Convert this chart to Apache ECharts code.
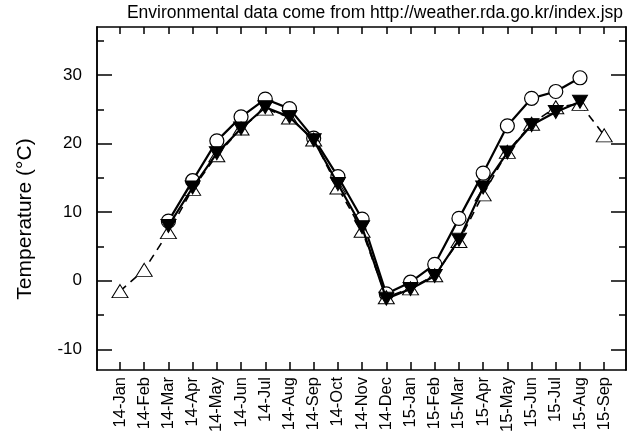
<!DOCTYPE html>
<html>
<head>
<meta charset="utf-8">
<script src="https://cdn.jsdelivr.net/npm/echarts@6/dist/echarts.min.js"></script>
<style>html,body{margin:0;padding:0;background:#fff}#c{width:631px;height:435px}</style>
</head>
<body>
<div id="c"></div>
<script>
var categories = ['14-Jan','14-Feb','14-Mar','14-Apr','14-May','14-Jun','14-Jul','14-Aug','14-Sep','14-Oct','14-Nov','14-Dec',
                  '15-Jan','15-Feb','15-Mar','15-Apr','15-May','15-Jun','15-Jul','15-Aug','15-Sep'];
// open circles, 14-Mar .. 15-Aug
var circleStart = 2;
var circleValues = [8.7, 14.6, 20.4, 23.9, 26.5, 25.1, 20.8, 15.2, 9.0, -1.9, -0.2, 2.4, 9.1, 15.7, 22.6, 26.6, 27.6, 29.6];
// filled inverted triangles, 14-Mar .. 15-Aug
var invTriStart = 2;
var invTriValues = [8.0, 13.6, 18.6, 22.2, 25.3, 23.9, 20.5, 14.1, 7.8, -2.6, -1.2, 0.7, 6.0, 13.6, 18.7, 22.7, 24.6, 26.1];
// open triangles (dashed), 14-Jan .. 15-Sep
var triStart = 0;
var triValues = [-1.5, 1.6, 7.1, 13.4, 18.3, 22.2, 25.1, 23.8, 20.6, 13.6, 7.3, -2.4, -1.1, 0.8, 5.8, 12.6, 18.8, 22.9, 25.3, 25.8, 21.2];
var yMajor = [-10, 0, 10, 20, 30];
var yMinor = [-5, 5, 15, 25, 35];
var titleText = 'Environmental data come from http://weather.rda.go.kr/index.jsp';
var yName = 'Temperature (\u00B0C)';

function pairs(start, vals) { return vals.map(function (v, i) { return [start + i, v]; }); }
var idx = categories.map(function (c, i) { return i; });
var FONT = "'Liberation Sans', Arial, sans-serif";
var XMIN = -0.95, XMAX = 20.9, YMIN = -13, YMAX = 37;
var lineS = { color: '#000', width: 1.5 };

function xAx(pos, showLabel, tickLen) {
  return {
    type: 'value', position: pos, min: XMIN, max: XMAX,
    axisLine: { show: true, onZero: false, lineStyle: lineS },
    axisTick: { show: true, inside: true, length: tickLen, customValues: idx, lineStyle: lineS },
    axisLabel: showLabel ? {
      show: true, customValues: idx, rotate: 90, margin: 7, color: '#000', fontSize: 16.5, fontFamily: FONT,
      formatter: function (v) { return categories[Math.round(v)]; }
    } : { show: false },
    splitLine: { show: false }
  };
}
function yAx(pos, major, showLabel) {
  return {
    type: 'value', position: pos, min: YMIN, max: YMAX,
    axisLine: { show: true, onZero: false, lineStyle: lineS },
    axisTick: { show: true, inside: true, length: major ? 15 : 7, customValues: major ? yMajor : yMinor, lineStyle: lineS },
    axisLabel: showLabel ? {
      show: true, customValues: yMajor, margin: 15, color: '#000', fontSize: 17, fontFamily: FONT,
      formatter: function (v) { return String(Math.round(v)); }
    } : { show: false },
    splitLine: { show: false }
  };
}

var chart = echarts.init(document.getElementById('c'), null, { renderer: 'canvas' });
chart.setOption({
  animation: false,
  backgroundColor: '#fff',
  grid: { left: 97, top: 27, right: 5, bottom: 59, containLabel: false },
  xAxis: [xAx('bottom', true, 8), xAx('top', false, 7)],
  yAxis: [yAx('left', true, true), yAx('left', false, false), yAx('right', true, false), yAx('right', false, false)],
  graphic: [
    { type: 'text', right: 8, top: 4, style: { text: titleText, font: '17.5px ' + FONT, fill: '#000' } },
    { type: 'text', x: 25, y: 219, rotation: Math.PI / 2,
      style: { text: yName, font: '21px ' + FONT, fill: '#000', textAlign: 'center', textVerticalAlign: 'middle' } }
  ],
  series: [
    { type: 'line', name: 'circle', data: pairs(circleStart, circleValues), xAxisIndex: 0, yAxisIndex: 0,
      symbol: 'circle', symbolSize: 14, z: 2,
      itemStyle: { color: '#fff', borderColor: '#000', borderWidth: 1.2 },
      lineStyle: { color: '#000', width: 2.2 } },
    { type: 'line', name: 'tri', data: pairs(triStart, triValues), xAxisIndex: 0, yAxisIndex: 0,
      symbol: 'triangle', symbolSize: [16, 13], z: 3,
      itemStyle: { color: '#fff', borderColor: '#000', borderWidth: 1 },
      lineStyle: { color: '#000', width: 1.6, type: [8, 6] } },
    { type: 'line', name: 'invtri', data: pairs(invTriStart, invTriValues), xAxisIndex: 0, yAxisIndex: 0,
      symbol: 'triangle', symbolRotate: 180, symbolSize: [15, 13], z: 4,
      itemStyle: { color: '#000', borderColor: '#000', borderWidth: 1 },
      lineStyle: { color: '#000', width: 2.2 } }
  ]
});
</script>
</body>
</html>
